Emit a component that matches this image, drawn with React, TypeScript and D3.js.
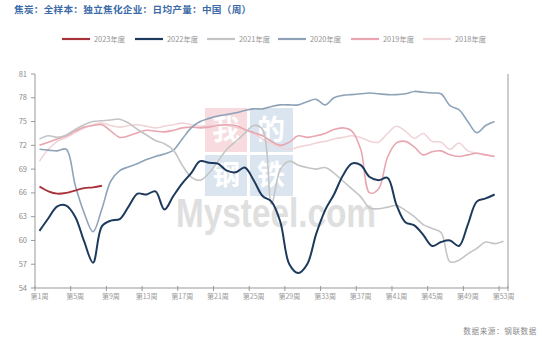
import React from "react";
import * as d3 from "d3";

const weekNums: number[] = Array.from({ length: 53 }, (_, i) => i + 1);
const xTickWeeks = [1, 5, 9, 13, 17, 21, 25, 29, 33, 37, 41, 45, 49, 53];
const yTicks = [54, 57, 60, 63, 66, 69, 72, 75, 78, 81];

const s2023 = [66.8, 66.2, 65.9, 66.0, 66.3, 66.6, 66.7, 66.9];
const s2022 = [61.2, 62.8, 64.3, 64.4, 63.0, 59.9, 57.2, 61.8, 62.5, 62.7, 64.3, 65.9, 65.8, 66.2, 63.9, 65.6, 67.2, 68.5, 70.0, 69.8, 69.7, 68.8, 68.6, 69.2, 67.6, 65.6, 64.9, 62.3, 57.0, 55.9, 57.0, 60.8, 63.8, 65.8, 68.2, 69.7, 69.5, 68.0, 67.6, 67.9, 64.5, 62.3, 61.9, 60.7, 59.3, 59.8, 60.0, 59.3, 62.0, 64.9, 65.3, 65.8];
const s2021 = [72.8, 73.2, 73.0, 73.3, 74.0, 74.6, 75.0, 75.1, 75.2, 75.3, 74.8, 74.0, 73.3, 72.6, 72.2, 71.4, 69.5, 68.0, 67.6, 68.5, 70.0, 71.5, 72.5, 73.5, 74.5, 74.0, 64.6, 69.0, 70.0, 69.5, 69.2, 69.0, 69.2, 68.5, 67.5, 66.5, 65.5, 64.1, 64.0, 64.2, 64.4, 63.8, 63.0, 62.0, 61.5, 61.0, 57.3, 57.5, 58.3, 59.0, 59.8, 59.6, 59.9];
const s2020 = [71.5, 71.4, 71.3, 71.5, 67.0, 63.5, 61.1, 64.0, 67.5, 68.8, 69.3, 69.7, 70.2, 70.6, 70.9, 71.4, 72.8, 74.2, 75.0, 75.4, 75.7, 75.9, 76.1, 76.4, 76.6, 76.6, 76.9, 77.1, 77.1, 77.1, 77.5, 77.8, 77.1, 78.0, 78.3, 78.4, 78.5, 78.6, 78.5, 78.4, 78.4, 78.5, 78.8, 78.7, 78.6, 78.5, 77.0, 76.5, 75.0, 73.6, 74.5, 75.0];
const s2019 = [72.0, 72.4, 72.8, 73.2, 73.8, 74.3, 74.5, 74.6, 73.8, 73.0, 73.2, 73.6, 73.9, 73.8, 73.7, 73.9, 74.2, 74.3, 74.2, 74.3, 74.5, 74.6, 74.5, 74.0, 73.6, 73.2, 72.5, 72.0, 72.4, 73.2, 73.0, 73.2, 73.5, 74.0, 74.2, 73.8, 71.5, 66.0, 66.5, 70.5, 72.3, 72.5, 71.8, 70.8, 71.2, 71.3, 70.8, 70.6, 70.8, 71.0, 70.8, 70.6];
const s2018 = [70.0, 71.5, 72.5, 73.0, 73.6, 74.2, 74.6, 74.8, 74.5, 74.3, 74.5, 74.6, 74.4, 74.2, 74.4, 74.6, 74.8, 74.6, 74.4, 74.5, 74.6, 74.5, 74.3, 74.0, 73.5, 72.8, 72.2, 71.8, 71.5, 71.8, 72.0, 72.3, 72.5, 72.8, 73.0, 73.2, 73.0, 72.5, 72.4, 73.5, 74.4, 73.8, 72.9, 73.5, 72.5, 72.4, 71.5, 72.3, 71.3, 71.0, 70.8, 70.6];

const seriesNames = ["2023年度", "2022年度", "2021年度", "2020年度", "2019年度", "2018年度"];
const seriesData = [s2023, s2022, s2021, s2020, s2019, s2018];
const seriesColors = ["#a8323a", "#1d3a5c", "#c4c4c4", "#8fa3b8", "#e9a6b0", "#f0d4d8"];
const seriesWidths = [1.8, 2, 1.6, 1.6, 1.6, 1.6];
const legendX = [62, 135, 207, 278, 351, 423];
const logoChars = ["我", "的", "钢", "铁"];

export default function App() {
  const left = 35, right = 508, top = 74, bottom = 288;
  const x = d3.scaleBand<number>().domain(weekNums).range([left, right]).padding(0);
  const bw = x.bandwidth();
  const cx = (w: number) => (x(w) as number) + bw / 2;
  const y = d3.scaleLinear().domain([54, 81]).range([bottom, top]);
  const line = d3
    .line<number>()
    .x((_, i) => cx(i + 1))
    .y((d) => y(d))
    .curve(d3.curveCatmullRom.alpha(0.5));
  const font = "'Noto Sans CJK SC', 'Noto Sans', sans-serif";
  const drawOrder = [5, 4, 3, 2, 1, 0];
  return (
    <svg width={550} height={344} style={{ position: "absolute", left: 0, top: 0, background: "#fff" }}>
      <text x={14} y={13} fontFamily={font} fontSize={9.6} fontWeight="bold" fill="#3b6aa8" letterSpacing={0.3}>
        焦炭：全样本：独立焦化企业：日均产量：中国（周）
      </text>
      {seriesNames.map((n, i) => (
        <g key={n}>
          <line x1={legendX[i]} x2={legendX[i] + 28} y1={39} y2={39} stroke={seriesColors[i]} strokeWidth={2.2} />
          <text x={legendX[i] + 32} y={41.5} fontFamily={font} fontSize={7.4} fill="#939393">
            {n}
          </text>
        </g>
      ))}
      {/* watermark */}
      <g opacity={0.5}>
        <rect x={205} y={108} width={42} height={44} fill="#f0b8be" />
        <rect x={250} y={108} width={43} height={44} fill="#b9cce3" />
        <rect x={205} y={155} width={42} height={41} fill="#b9cce3" />
        <rect x={250} y={155} width={43} height={41} fill="#b9cce3" />
        {logoChars.map((c, i) => (
          <text key={c} x={226 + (i % 2) * 45} y={140 + Math.floor(i / 2) * 45} textAnchor="middle" fontFamily={font} fontSize={28} fontWeight="bold" fill="#fff">
            {c}
          </text>
        ))}
      </g>
      <text x={176} y={227} fontFamily="'Liberation Sans', Arial, sans-serif" fontSize={40} fontWeight="bold" fill="#dadada" textLength={200} lengthAdjust="spacingAndGlyphs" opacity={0.85}>
        Mysteel.com
      </text>
      {/* axes */}
      <line x1={left} x2={left} y1={top} y2={bottom} stroke="#999" />
      <line x1={right} x2={right} y1={top} y2={bottom} stroke="#999" />
      <line x1={left} x2={right} y1={bottom} y2={bottom} stroke="#999" />
      {yTicks.map((t) => (
        <g key={t}>
          <line x1={left - 4} x2={left} y1={y(t)} y2={y(t)} stroke="#999" />
          <text x={left - 8} y={y(t) + 2.6} textAnchor="end" fontFamily={font} fontSize={7.5} fill="#8c8c8c">
            {t}
          </text>
        </g>
      ))}
      {xTickWeeks.map((w) => (
        <g key={w}>
          <line x1={x(w) as number} x2={x(w) as number} y1={bottom - 2} y2={bottom + 3} stroke="#999" />
          <text x={cx(w)} y={bottom + 11} textAnchor="middle" fontFamily={font} fontSize={7} fill="#999">
            {"第" + w + "周"}
          </text>
        </g>
      ))}
      <line x1={right} x2={right} y1={bottom - 2} y2={bottom + 3} stroke="#999" />
      {drawOrder.map((i) => (
        <path key={i} d={line(seriesData[i]) || ""} fill="none" stroke={seriesColors[i]} strokeWidth={seriesWidths[i]} strokeLinejoin="round" />
      ))}
      <text x={537} y={334} textAnchor="end" fontFamily={font} fontSize={7.6} fill="#8c8c8c" letterSpacing={0.6}>
        数据来源：钢联数据
      </text>
    </svg>
  );
}
